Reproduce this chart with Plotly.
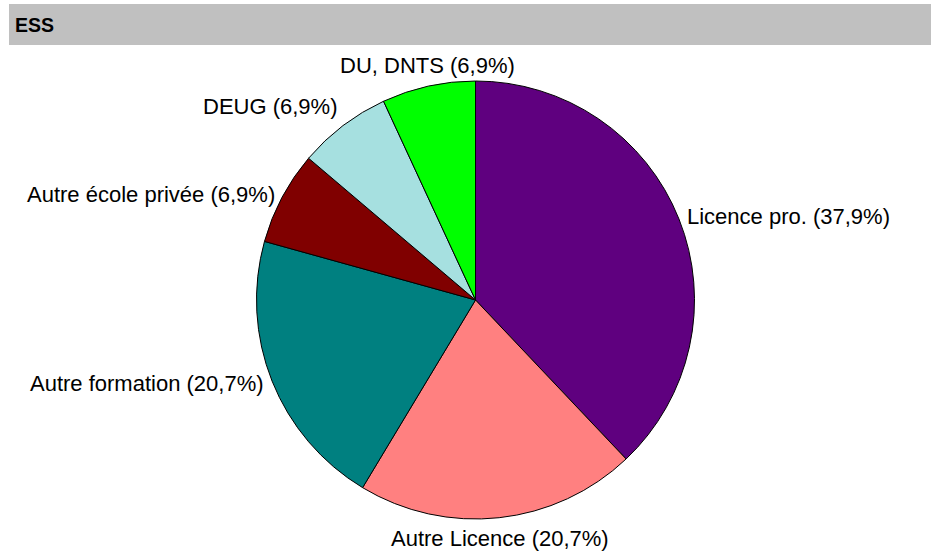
import math
import plotly.graph_objects as go

labels = ["Licence pro.", "Autre Licence", "Autre formation", "Autre école privée", "DEUG", "DU, DNTS"]
values = [11, 6, 6, 2, 2, 2]
colors = ["#5F007F", "#FF8080", "#008080", "#800000", "#A6E0E0", "#00FF00"]
title = "ESS"

W, H = 932, 553
cx, cy, r = 475.5, 300, 219
FONT = "Liberation Sans, Arial, sans-serif"

fig = go.Figure(go.Pie(
    labels=labels, values=values, sort=False, direction="clockwise", rotation=0,
    marker=dict(colors=colors, line=dict(color="black", width=1)),
    textinfo="none", showlegend=False, hoverinfo="label+percent",
    domain=dict(x=[(cx - r) / W, (cx + r) / W], y=[(H - cy - r) / H, (H - cy + r) / H]),
))

# Excel-style outside labels, placed at each slice's mid angle
total = sum(values)
annotations = []
cum = 0
for lab, v in zip(labels, values):
    frac = v / total
    theta = 2 * math.pi * (cum + frac / 2)
    cum += frac
    s, c = math.sin(theta), math.cos(theta)
    rr = r + 6
    px = cx + rr * s
    py = cy - rr * c
    xa = "center" if abs(s) < 0.35 else ("left" if s > 0 else "right")
    ya = "bottom" if c > 0.7 else ("top" if c < -0.7 else "middle")
    pct = f"{frac * 100:.1f}".replace(".", ",")
    annotations.append(dict(
        text=f"{lab} ({pct}%)", xref="paper", yref="paper",
        x=px / W, y=1 - py / H, xanchor=xa, yanchor=ya, showarrow=False,
        font=dict(family=FONT, size=22, color="black"),
    ))

annotations.append(dict(text="<b>" + title + "</b>", xref="paper", yref="paper",
                        x=13 / W, y=1 - 25 / H, xanchor="left", yanchor="middle",
                        showarrow=False, font=dict(family=FONT, size=19.5, color="black")))

fig.update_layout(
    width=W, height=H, margin=dict(l=0, r=0, t=0, b=0),
    paper_bgcolor="white", plot_bgcolor="white", separators=", ",
    shapes=[dict(type="rect", xref="paper", yref="paper",
                 x0=9 / W, x1=931 / W, y0=1 - 45 / H, y1=1 - 4 / H,
                 fillcolor="#C0C0C0", line=dict(width=0), layer="below")],
    annotations=annotations,
)

fig.write_html("out.html", config={"displayModeBar": False},
               post_script="document.body.style.margin='0px';document.body.style.overflow='hidden';")
